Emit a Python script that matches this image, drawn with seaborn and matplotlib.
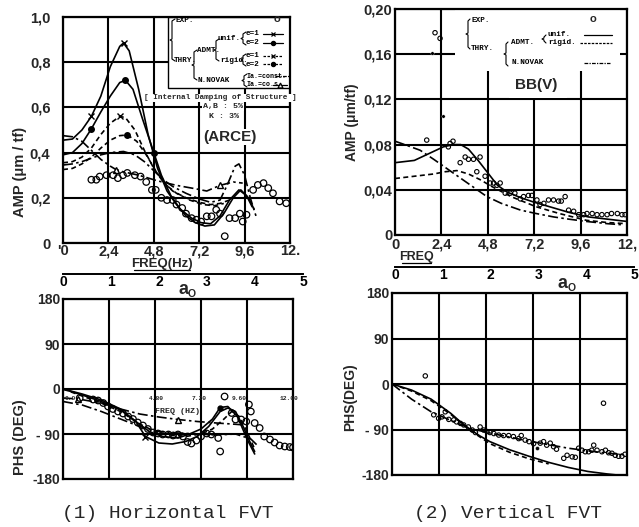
import numpy as np
import pandas as pd
import matplotlib
matplotlib.use("Agg")
import matplotlib.pyplot as plt
import seaborn as sns
from matplotlib.patches import Rectangle
from matplotlib.lines import Line2D

# ---------------- DATA ----------------
# (1) Horizontal FVT - amplitude (um/tf) vs frequency (Hz)
h_exp_f = [1.5, 1.76, 1.94, 2.3, 2.65, 2.9, 3.17, 3.4, 3.8, 4.1, 4.4, 4.7, 4.9, 5.2, 5.5, 5.8, 6.0,
           6.3, 6.5, 6.8, 7.05, 7.3, 7.6, 7.85, 8.1, 8.3, 8.55, 8.8, 9.1, 9.35, 9.5, 9.7, 10.05,
           10.3, 10.6, 10.85, 11.1, 11.45, 11.8]
h_exp_a = [0.28, 0.28, 0.294, 0.30, 0.30, 0.287, 0.30, 0.31, 0.30, 0.294, 0.27, 0.235, 0.235, 0.20,
           0.19, 0.19, 0.17, 0.155, 0.13, 0.11, 0.103, 0.095, 0.118, 0.118, 0.147, 0.13, 0.03, 0.11,
           0.11, 0.13, 0.095, 0.125, 0.235, 0.257, 0.265, 0.243, 0.22, 0.184, 0.176]

h_u1_f = [0, 0.5, 1.0, 1.5, 2.0, 2.5, 3.0, 3.2, 3.5, 4.0, 4.5, 5.0, 5.5, 6.0, 6.5, 7.0, 7.5, 8.0, 8.5, 9.0, 9.4, 9.8, 10.1]
h_u1_a = [0.455, 0.46, 0.50, 0.56, 0.65, 0.78, 0.87, 0.885, 0.85, 0.68, 0.48, 0.33, 0.23, 0.17, 0.12, 0.09, 0.075, 0.08, 0.13, 0.20, 0.235, 0.20, 0.15]

h_u2_f = [0, 0.5, 1.0, 1.5, 2.0, 2.5, 3.0, 3.3, 3.7, 4.2, 4.8, 5.2, 5.7, 6.2, 6.8, 7.3, 7.8, 8.3, 8.8, 9.3, 9.7, 10.0]
h_u2_a = [0.39, 0.40, 0.44, 0.505, 0.58, 0.65, 0.71, 0.72, 0.68, 0.55, 0.40, 0.30, 0.21, 0.15, 0.11, 0.09, 0.085, 0.12, 0.19, 0.235, 0.21, 0.16]

h_r1_f = [0, 0.5, 1.0, 1.5, 2.0, 2.5, 3.0, 3.3, 3.8, 4.3, 4.8, 5.3, 5.8, 6.5, 7.2, 7.8, 8.3, 8.8]
h_r1_a = [0.355, 0.36, 0.38, 0.42, 0.48, 0.53, 0.56, 0.555, 0.50, 0.41, 0.33, 0.27, 0.23, 0.20, 0.18, 0.17, 0.175, 0.19]

h_r2_f = [0, 0.5, 1.0, 1.5, 2.0, 2.5, 3.0, 3.4, 3.9, 4.4, 4.9, 5.4, 6.0, 6.7, 7.4, 8.0, 8.5]
h_r2_a = [0.325, 0.33, 0.35, 0.38, 0.42, 0.455, 0.475, 0.478, 0.45, 0.39, 0.32, 0.26, 0.22, 0.19, 0.17, 0.165, 0.175]

h_nc_f = [0, 0.5, 1.0, 1.5, 2.0, 2.5, 3.2, 3.8, 4.3, 4.8, 5.3, 5.8, 6.5, 7.2, 7.8, 8.3, 8.7, 9.1, 9.3, 9.6, 9.9, 10.2]
h_nc_a = [0.345, 0.35, 0.36, 0.375, 0.39, 0.40, 0.405, 0.39, 0.36, 0.32, 0.28, 0.25, 0.22, 0.195, 0.18, 0.19, 0.26, 0.34, 0.35, 0.30, 0.20, 0.12]

h_nw_f = [0, 0.5, 1.0, 1.5, 2.0, 2.5, 2.8, 3.2, 4.0, 5.0, 6.0, 7.0, 7.6, 8.3, 9.0, 9.5]
h_nw_a = [0.475, 0.47, 0.45, 0.41, 0.37, 0.34, 0.325, 0.315, 0.30, 0.275, 0.255, 0.24, 0.23, 0.255, 0.27, 0.265]

# (1) Horizontal FVT - phase (deg)
hp_exp_f = [0.87, 1.57, 1.83, 2.1, 2.35, 2.6, 2.87, 3.13, 3.4, 3.65, 3.9, 4.17, 4.43, 4.7, 4.96, 5.2,
            5.5, 5.74, 6.0, 6.26, 6.5, 6.7, 6.96, 7.2, 7.5, 7.74, 8.1, 8.2, 8.43, 8.8, 9.0, 9.3, 9.56,
            9.7, 9.8, 10.0, 10.26, 10.5, 10.8, 11.04, 11.3, 11.57, 11.83, 12.0]
hp_exp_p = [-18, -21, -23, -28, -35, -40, -45, -49, -55, -60, -67, -73, -80, -87, -89, -91, -91, -93,
            -91, -95, -106, -109, -103, -95, -89, -91, -98, -125, -15, -48, -61, -61, -65, -31, -45,
            -68, -78, -95, -101, -107, -113, -115, -116, -117]
hp_u1_f = [0, 1, 2, 3, 3.8, 4.3, 5.0, 5.7, 6.4, 7.0, 7.6, 8.2, 8.6, 9.0, 9.4, 9.8, 10.0]
hp_u1_p = [0, -10, -22, -40, -65, -95, -108, -110, -105, -95, -75, -45, -38, -45, -75, -110, -125]
hp_u2_f = [0, 1, 2, 3, 3.8, 4.5, 5.2, 6.0, 6.6, 7.2, 7.8, 8.2, 8.6, 9.1, 9.6, 10.0]
hp_u2_p = [0, -12, -25, -42, -65, -85, -95, -98, -90, -80, -60, -37, -35, -55, -100, -130]
hp_r_f = [0, 1, 2, 3, 4, 4.8, 5.6, 6.4, 7.2, 7.8, 8.4, 8.8, 9.2, 9.6, 10.0]
hp_r_p = [0, -14, -28, -45, -70, -85, -92, -95, -90, -80, -60, -45, -55, -85, -120]
hp_nc_f = [0, 1, 2, 3, 4, 5, 6, 7, 8, 9, 9.8, 10.2]
hp_nc_p = [-25, -32, -45, -60, -75, -85, -88, -90, -92, -90, -100, -115]
hp_nw_f = [0, 0.8, 2, 3, 4, 5, 6, 7, 8, 8.8, 9.5]
hp_nw_p = [-18, -20, -28, -40, -50, -56, -61, -65, -68, -70, -72]

# (2) Vertical FVT - amplitude
v_exp_f = [1.64, 2.07, 2.33, 2.76, 2.85, 3.0, 3.37, 3.63, 3.8, 4.06, 4.23, 4.4, 4.66, 4.92, 5.1, 5.27,
           5.44, 5.7, 5.96, 6.2, 6.48, 6.65, 6.9, 7.08, 7.34, 7.5, 7.7, 7.94, 8.2, 8.46, 8.6, 8.8, 8.98,
           9.24, 9.5, 9.76, 9.93, 10.2, 10.45, 10.7, 10.97, 11.2, 11.5, 11.74, 11.9]
v_exp_a = [0.084, 0.179, 0.174, 0.078, 0.081, 0.083, 0.064, 0.069, 0.067, 0.067, 0.056, 0.069, 0.052,
           0.046, 0.046, 0.044, 0.046, 0.037, 0.037, 0.037, 0.032, 0.034, 0.035, 0.035, 0.031, 0.027,
           0.028, 0.031, 0.031, 0.030, 0.030, 0.034, 0.022, 0.021, 0.018, 0.018, 0.019, 0.019, 0.018,
           0.018, 0.018, 0.019, 0.019, 0.018, 0.018]
v_dot_f = [1.9, 2.5]
v_dot_a = [0.161, 0.105]
v_u_f = [0, 0.5, 1.0, 1.5, 2.0, 2.5, 3.0, 3.4, 3.8, 4.3, 4.8, 5.3, 5.8, 6.5, 7.2, 8.0, 9.0, 10.0, 11.0, 12.0]
v_u_a = [0.064, 0.065, 0.066, 0.070, 0.074, 0.078, 0.080, 0.080, 0.076, 0.066, 0.055, 0.044, 0.038, 0.033, 0.029, 0.025, 0.020, 0.016, 0.014, 0.012]
v_r_f = [0, 0.5, 1.0, 2.0, 2.6, 3.2, 3.8, 4.4, 5.0, 6.0, 7.3, 8.5, 9.9, 11.0, 12.0]
v_r_a = [0.050, 0.051, 0.052, 0.054, 0.056, 0.057, 0.054, 0.049, 0.043, 0.034, 0.025, 0.019, 0.013, 0.011, 0.010]
v_n_f = [0, 0.5, 1.3, 2.0, 3.0, 4.0, 4.75, 5.5, 6.5, 7.3, 8.2, 9.0, 9.9, 11.0, 11.8]
v_n_a = [0.083, 0.080, 0.075, 0.067, 0.055, 0.043, 0.034, 0.028, 0.022, 0.019, 0.016, 0.014, 0.012, 0.010, 0.009]

# (2) Vertical FVT - phase
vp_exp_f = [1.7, 2.13, 2.38, 2.55, 2.72, 2.9, 3.15, 3.3, 3.5, 3.66, 3.9, 4.1, 4.26, 4.5, 4.68, 4.85,
            5.0, 5.2, 5.45, 5.7, 5.96, 6.2, 6.47, 6.6, 6.8, 7.0, 7.23, 7.57, 7.74, 7.9, 8.08, 8.25,
            8.4, 8.77, 8.94, 9.2, 9.36, 9.53, 9.7, 9.87, 10.04, 10.2, 10.3, 10.47, 10.72, 10.9, 11.06,
            11.23, 11.4, 11.57, 11.74, 11.9, 10.8]
vp_exp_p = [16, -61, -68, -65, -55, -70, -71, -75, -78, -81, -85, -91, -96, -85, -91, -94, -96, -98,
            -101, -102, -102, -104, -108, -102, -111, -114, -118, -117, -114, -121, -117, -124, -129,
            -147, -141, -144, -145, -127, -131, -134, -134, -131, -121, -131, -134, -131, -136, -137,
            -141, -143, -143, -139, -38]
vp_dot_f = [7.4]
vp_dot_p = [-127]
vp_u_f = [0, 1, 2, 3, 3.5, 4, 4.5, 5, 6, 7, 8, 9, 10, 11, 11.5]
vp_u_p = [0, -12, -30, -58, -75, -90, -103, -114, -130, -143, -155, -165, -173, -178, -180]
vp_r_f = [0, 1, 2, 3, 4, 5, 6, 7, 8]
vp_r_p = [0, -14, -33, -60, -92, -118, -135, -148, -158]
vp_n_f = [0, 1, 2, 3, 4, 5, 6, 7, 8, 9, 10, 11, 12]
vp_n_p = [0, -30, -55, -72, -88, -97, -105, -113, -120, -127, -132, -137, -140]

freq_ticks = [0, 2.4, 4.8, 7.2, 9.6, 12]
freq_labels = ["'0", "2,4", "4,8", "7,2", "9,6", "12."]
h_amp_ticks = [0, 0.2, 0.4, 0.6, 0.8, 1.0]
h_amp_labels = ["0", "0,2", "0,4", "0,6", "0,8", "1,0"]
v_amp_ticks = [0, 0.04, 0.08, 0.12, 0.16, 0.20]
v_amp_labels = ["0", "0,04", "0,08", "0,12", "0,16", "0,20"]
phs_ticks = [-180, -90, 0, 90, 180]
phs_labels = ["-180", "- 90", "0", "90", "180"]
a0_ticks = [0, 1, 2, 3, 4, 5]

# ---------------- STYLE ----------------
sns.set_theme(style="white")
plt.rcParams['font.family'] = ['Liberation Sans', 'DejaVu Sans']

W, H = 639, 527
fig = plt.figure(figsize=(6.39, 5.27), dpi=100)


def rect(x0, y0, x1, y1):
    return [x0 / W, 1 - y1 / H, (x1 - x0) / W, (y1 - y0) / H]


def P(x, y):
    return x / W, 1 - y / H


SOLID = '-'
DASH = (0, (3, 2))
DDOT = (0, (6, 2, 1.5, 2))
MONO = ['Liberation Mono', 'DejaVu Sans Mono']


def style_axes(ax, xt, xl, yt, yl, ylim, fs=10.5, show_x=True, ypad=2, xpad=2):
    ax.set_xlim(0, 12)
    ax.set_ylim(*ylim)
    ax.set_xticks(xt)
    ax.set_xticklabels(xl if show_x else [])
    ax.set_yticks(yt)
    ax.set_yticklabels(yl)
    for lab in ax.get_xticklabels() + ax.get_yticklabels():
        lab.set_fontweight('bold')
        lab.set_fontsize(fs)
    ax.tick_params(length=0)
    ax.tick_params(axis='y', pad=ypad)
    ax.tick_params(axis='x', pad=xpad)
    for s in ax.spines.values():
        s.set_linewidth(1.6)
        s.set_color('black')
    ax.grid(True, color='black', linewidth=1.5)
    ax.set_axisbelow(True)
    ax.set_xlabel('')
    ax.set_ylabel('')


def draw_line(ax, f, v, ls, marker=None, mk_idx=None, mfc='black', ms=5, lw=1.2):
    kw = dict(x=f, y=v, ax=ax, color='black', linewidth=lw, linestyle=ls,
              estimator=None, sort=False, zorder=3)
    if marker is not None:
        kw.update(marker=marker, markevery=mk_idx, markersize=ms,
                  markerfacecolor=mfc, markeredgecolor='black', markeredgewidth=1)
    sns.lineplot(**kw)


def draw_circles(ax, f, v, s, lw=0.9):
    sns.scatterplot(x=f, y=v, ax=ax, marker='o', s=s, facecolors='none',
                    edgecolor='black', linewidth=lw, zorder=4)


def a0_axis(x0, x1, y, labely_pad=1):
    ax = fig.add_axes([x0 / W, 1 - y / H, (x1 - x0) / W, 0.0001])
    ax.set_xlim(0, 5)
    ax.set_xticks(a0_ticks)
    ax.set_xticklabels([str(t) for t in a0_ticks])
    ax.set_yticks([])
    for k in ['top', 'left', 'right']:
        ax.spines[k].set_visible(False)
    ax.spines['bottom'].set_linewidth(1.4)
    ax.spines['bottom'].set_color('black')
    ax.tick_params(axis='x', direction='in', length=4, width=1.2, pad=labely_pad,
                   colors='black')
    for lab in ax.get_xticklabels():
        lab.set_fontweight('bold')
        lab.set_fontsize(10)
    ax.patch.set_alpha(0)
    return ax


def fline(pts, ls='-', lw=0.9, marker=None, mfc='black', ms=3.5):
    xs = [P(x, y)[0] for x, y in pts]
    ys = [P(x, y)[1] for x, y in pts]
    fig.add_artist(Line2D(xs, ys, color='black', linewidth=lw, linestyle=ls))
    if marker is not None:
        mx = (pts[0][0] + pts[-1][0]) / 2
        mxy = P(mx, pts[0][1])
        fig.add_artist(Line2D([mxy[0]], [mxy[1]], marker=marker, color='black',
                              markerfacecolor=mfc, markersize=ms, markeredgewidth=0.9,
                              linestyle='none'))


def brace(x, y0, y1, w=3):
    m = (y0 + y1) / 2
    fline([(x + w, y0), (x, y0 + 2), (x, m - 1), (x - 2, m), (x, m + 1), (x, y1 - 2), (x + w, y1)], lw=0.8)


def ftext(x, y, s, size=5.5, **kw):
    fig.text(*P(x, y), s, fontsize=size, va='center', color='black', **kw)


WB = dict(facecolor='white', edgecolor='none', pad=0.5)

# ---------------- (1) Horizontal amplitude ----------------
ax1 = fig.add_axes(rect(63, 17, 290, 243))
style_axes(ax1, freq_ticks, freq_labels, h_amp_ticks, h_amp_labels, (0, 1.0), ypad=9, xpad=1)
ax1.add_patch(Rectangle((0.4626, 0.686), 0.5374, 0.314, transform=ax1.transAxes,
                        facecolor='white', edgecolor='black', linewidth=1.0, zorder=2.5))
draw_line(ax1, h_u1_f, h_u1_a, SOLID, 'x', [3, 7], ms=4.5)
draw_line(ax1, h_u2_f, h_u2_a, SOLID, 'o', [3, 7, 10], ms=4)
draw_line(ax1, h_r1_f, h_r1_a, DASH, 'x', [6], ms=4.5)
draw_line(ax1, h_r2_f, h_r2_a, DASH, 'o', [7], ms=4)
draw_line(ax1, h_nc_f, h_nc_a, DDOT)
draw_line(ax1, h_nw_f, h_nw_a, DDOT, '^', [6, 13], mfc='white', ms=5)
draw_circles(ax1, h_exp_f, h_exp_a, 22)
ax1.text(8.3, 0.642, '[ Internal Damping of Structure ]', fontsize=5.6, family=MONO,
         fontweight='bold', ha='center', va='center', zorder=5, bbox=WB, clip_on=False)
ax1.text(8.46, 0.602, 'A,B : 5%', fontsize=6, family=MONO, fontweight='bold',
         ha='center', va='center', zorder=5, bbox=WB)
ax1.text(8.5, 0.558, 'K : 3%', fontsize=6, family=MONO, fontweight='bold',
         ha='center', va='center', zorder=5, bbox=WB)
ax1.text(8.83, 0.469, '(ARCE)', fontsize=11, fontweight='bold', ha='center', va='center',
         zorder=5, bbox=dict(facecolor='white', edgecolor='none', pad=1))
fig.text(*P(20, 172), 'AMP (\u03bcm / tf)', rotation=90, fontsize=10.5, fontweight='bold',
         ha='center', va='center')
fig.text(*P(162, 264), 'FREQ(Hz)', fontsize=9.5, fontweight='bold', ha='center', va='center')
fline([(134, 270), (190, 270)], lw=0.9)
a0_axis(63, 303, 274)
fig.text(*P(183, 290), 'a', fontsize=13, fontweight='bold', ha='center', va='center')
fig.text(*P(192, 294), 'O', fontsize=7.5, fontweight='bold', ha='center', va='center')

# legend (1)
ftext(176, 20, 'EXP.', family=MONO, fontweight='bold')
fig.text(*P(277, 19), 'o', fontsize=8, ha='center', va='center', fontweight='bold')
ftext(174, 60, 'THRY.', family=MONO, fontweight='bold')
brace(172, 19, 61)
ftext(197, 50, 'ADMT.', family=MONO, fontweight='bold')
brace(194, 50, 80)
ftext(218, 39, 'unif.', family=MONO, fontweight='bold')
ftext(220, 61, 'rigid.', family=MONO, fontweight='bold')
brace(216, 39, 61)
ftext(197, 80, 'N.NOVAK', family=MONO, fontweight='bold')
brace(243, 32, 45)
brace(243, 54, 66)
brace(244, 74, 87)
for yy, s, ls, mk in [(34, 'e=1', '-', 'x'), (43, 'e=2', '-', 'o'),
                      (56, 'e=1', (0, (2, 1.2)), 'x'), (64, 'e=2', (0, (2, 1.2)), 'o')]:
    ftext(246, yy, s, family=MONO, fontweight='bold')
    fline([(263, yy), (283, yy)], ls=ls, marker=mk, ms=3)
ftext(247, 76, 'Ia.=const.', size=4.8, family=MONO, fontweight='bold')
fline([(275, 76), (289, 76)], ls=(0, (3, 1, 1, 1)))
ftext(247, 85, 'Ia.=co.s.', size=4.8, family=MONO, fontweight='bold')
fline([(273, 85), (287, 85)], ls='-', marker='^', mfc='white', ms=3.5)

# ---------------- (2) Vertical amplitude ----------------
ax2 = fig.add_axes(rect(395, 9, 627, 235))
style_axes(ax2, freq_ticks, ["0", "2,4", "4,8", "7,2", "9,6", "12,"], v_amp_ticks, v_amp_labels, (0, 0.20))
ax2.add_patch(Rectangle((3.1, 0.1448), 8.56, 0.06, facecolor='white', edgecolor='none', zorder=1.5))
ax2.add_patch(Rectangle((5.9, 0.121), 3.0, 0.025, facecolor='white', edgecolor='none', zorder=1.5))
draw_line(ax2, v_u_f, v_u_a, SOLID)
draw_line(ax2, v_r_f, v_r_a, DASH)
draw_line(ax2, v_n_f, v_n_a, DDOT)
draw_circles(ax2, v_exp_f, v_exp_a, 10, lw=0.8)
sns.scatterplot(x=v_dot_f, y=v_dot_a, ax=ax2, color='black', s=6, zorder=4)
ax2.text(7.3, 0.133, 'BB(V)', fontsize=11, fontweight='bold', ha='center', va='center', zorder=5)
fig.text(*P(352, 122), 'AMP (\u03bcm/tf)', rotation=90, fontsize=10, fontweight='bold',
         ha='center', va='center')
fig.text(*P(416, 257), 'FREQ', fontsize=9, fontweight='bold', ha='center', va='center')
fline([(402, 263), (431, 263)], lw=0.9)
a0_axis(395, 634, 267)
fig.text(*P(563, 284), 'a', fontsize=13, fontweight='bold', ha='center', va='center')
fig.text(*P(572, 288), 'O', fontsize=7.5, fontweight='bold', ha='center', va='center')

# legend (2)
brace(468, 19, 49, w=2)
ftext(472, 20, 'EXP.', family=MONO, fontweight='bold')
fig.text(*P(593, 19), 'o', fontsize=8, ha='center', va='center', fontweight='bold')
ftext(471, 49, 'THRY.', family=MONO, fontweight='bold')
brace(506, 42, 66, w=2)
ftext(511, 42, 'ADMT.', family=MONO, fontweight='bold')
brace(544, 35, 43, w=2)
ftext(548, 35, 'unif.', family=MONO, fontweight='bold')
ftext(548, 43, 'rigid.', family=MONO, fontweight='bold')
ftext(511, 63, 'N.NOVAK', family=MONO, fontweight='bold')
fline([(584, 35), (612, 35)], ls='-')
fline([(580, 43), (612, 43)], ls=(0, (2, 1)))
fline([(584, 63), (610, 63)], ls=(0, (3, 1, 1, 1)))

# ---------------- (1) Horizontal phase ----------------
ax3 = fig.add_axes(rect(63, 299, 293, 479))
style_axes(ax3, freq_ticks, freq_labels, phs_ticks, phs_labels, (-180, 180), fs=10, show_x=False)
draw_line(ax3, hp_u1_f, hp_u1_p, SOLID, 'x', [5], ms=4.5)
draw_line(ax3, hp_u2_f, hp_u2_p, SOLID, 'o', [11], ms=3.5)
draw_line(ax3, hp_r_f, hp_r_p, DASH)
draw_line(ax3, hp_nc_f, hp_nc_p, DDOT)
draw_line(ax3, hp_nw_f, hp_nw_p, DDOT, '^', [1, 6], mfc='white', ms=5)
draw_circles(ax3, hp_exp_f, hp_exp_p, 22)
for fx, s in [(0.4, '0.0'), (4.87, '4.80'), (7.1, '7.20'), (9.2, '9.60'), (11.8, '12.00')]:
    ax3.text(fx, -20, s, fontsize=4.5, ha='center', va='center', zorder=5, family=MONO,
             fontweight='bold')
ax3.text(6.0, -45, 'FREQ (HZ)', fontsize=6, ha='center', va='center', zorder=5, family=MONO,
         fontweight='bold')
fig.text(*P(20, 437), 'PHS (DEG)', rotation=90, fontsize=10.5, fontweight='bold',
         ha='center', va='center')
fig.text(*P(168, 514), '(1) Horizontal FVT', fontsize=14, family=MONO, ha='center', va='center')

# ---------------- (2) Vertical phase ----------------
ax4 = fig.add_axes(rect(392, 293, 627, 475))
style_axes(ax4, freq_ticks, freq_labels, phs_ticks, phs_labels, (-180, 180), fs=10, show_x=False)
draw_line(ax4, vp_u_f, vp_u_p, SOLID)
draw_line(ax4, vp_r_f, vp_r_p, DASH)
draw_line(ax4, vp_n_f, vp_n_p, DDOT)
draw_circles(ax4, vp_exp_f, vp_exp_p, 10, lw=0.8)
sns.scatterplot(x=vp_dot_f, y=vp_dot_p, ax=ax4, color='black', s=8, zorder=4)
fig.text(*P(350, 397), 'PHS(DEG)', rotation=90, fontsize=10, fontweight='bold',
         ha='center', va='center')
fig.text(*P(508, 514), '(2) Vertical FVT', fontsize=14, family=MONO, ha='center', va='center')

fig.savefig('out.png', dpi=100)
